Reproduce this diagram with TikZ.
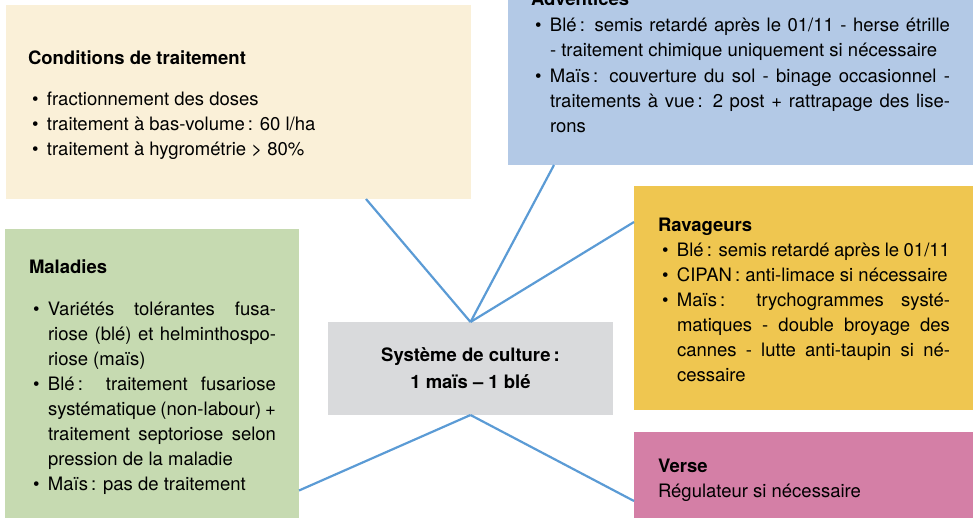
\documentclass[tikz,border=0pt]{standalone}
\usepackage{fontspec}
\setmainfont{TeX Gyre Heros}
\definecolor{creamc}{HTML}{FAF0D8}
\definecolor{bluec}{HTML}{B3C9E6}
\definecolor{greenc}{HTML}{C6DAB1}
\definecolor{yellowc}{HTML}{EFC650}
\definecolor{greyc}{HTML}{D9DADC}
\definecolor{pinkc}{HTML}{D47FA6}
\definecolor{linkblue}{HTML}{5B9BD5}
\newcommand\BUL{\makebox[19pt][l]{\hspace*{4pt}\textbullet}}
\newcommand\IND{\hspace*{19pt}}
\newcommand\JL[1]{\hbox to\hsize{#1}}
\newcommand\NL[1]{\hbox{#1}}
\newcommand\Blk[2]{\vtop{\hsize=#1\relax\lineskiplimit=-\maxdimen #2}}
\begin{document}
\begin{tikzpicture}[x=1pt,y=-1pt,
  box/.style={inner sep=0pt, outer sep=0pt, anchor=north west},
  txt/.style={inner sep=0pt, outer sep=0pt, anchor=base west, font=\fontsize{18.5}{25}\selectfont},
  link/.style={draw=linkblue, line width=2.2pt}]
\useasboundingbox (0,0) rectangle (979,517);
\clip (0,0) rectangle (979,517);
% boxes
\node[box, fill=creamc, minimum width=465pt, minimum height=194pt] (cond) at (6,5) {};
\node[box, fill=bluec, minimum width=465pt, minimum height=175pt] (adv) at (508,-10) {};
\node[box, fill=greenc, minimum width=294pt, minimum height=292pt] (mal) at (5,229) {};
\node[box, fill=yellowc, minimum width=339pt, minimum height=224pt] (rav) at (634,186) {};
\node[box, fill=pinkc, minimum width=339pt, minimum height=90pt] (verse) at (634,432) {};
\node[box, fill=greyc, minimum width=285pt, minimum height=93pt, align=center,
      font=\fontsize{18.5}{27}\selectfont\bfseries] (center) at (328,322)
      {Système de culture\,:\\1 maïs – 1 blé};
% texts
\node[txt] (condt) at (28,64) {\Blk{420pt}{%
  \NL{\bfseries Conditions de traitement}
  \vskip 16pt
  \NL{\BUL fractionnement des doses}
  \NL{\BUL traitement à bas-volume\,: 60 l/ha}
  \NL{\BUL traitement à hygrométrie > 80\%}}};
\node[txt] (advt) at (531,5) {\Blk{419pt}{%
  \NL{\bfseries Adventices}
  \vskip 1pt
  \JL{\BUL Blé\,: semis retardé après le 01/11 - herse étrille}
  \NL{\IND - traitement chimique uniquement si nécessaire}
  \vskip 1.5pt
  \JL{\BUL Maïs\,: couverture du sol - binage occasionnel -}
  \JL{\IND traitements à vue\,: 2 post + rattrapage des lise-}
  \NL{\IND rons}}};
\node[txt] (malt) at (29,273) {\Blk{247pt}{%
  \NL{\bfseries Maladies}
  \vskip 17pt
  \JL{\BUL Variétés tolérantes fusa-}
  \JL{\IND riose (blé) et helminthospo-}
  \NL{\IND riose (maïs)}
  \JL{\BUL Blé\,: traitement fusariose}
  \JL{\IND systématique (non-labour) +}
  \JL{\IND traitement septoriose selon}
  \NL{\IND pression de la maladie}
  \NL{\BUL Maïs\,: pas de traitement}}};
\node[txt] (ravt) at (658,231) {\Blk{292pt}{%
  \NL{\bfseries Ravageurs}
  \JL{\BUL Blé\,: semis retardé après le 01/11}
  \NL{\BUL CIPAN\,: anti-limace si nécessaire}
  \JL{\BUL Maïs\,: trychogrammes systé-}
  \JL{\IND matiques - double broyage des}
  \JL{\IND cannes - lutte anti-taupin si né-}
  \NL{\IND cessaire}}};
\node[txt] (verset) at (658,472) {\Blk{300pt}{%
  \NL{\bfseries Verse}
  \NL{Régulateur si nécessaire}}};
% connectors
\draw[link] (center.north) -- ([xshift=127.5pt]cond.south);
\draw[link] (center.north) -- ([xshift=-186.5pt]adv.south);
\draw[link] (center.north) -- ([yshift=76pt]rav.west);
\draw[link] (center.south) -- ([yshift=-115.5pt]mal.east);
\draw[link] (center.south) -- ([yshift=-24pt]verse.west);
\end{tikzpicture}
\end{document}
